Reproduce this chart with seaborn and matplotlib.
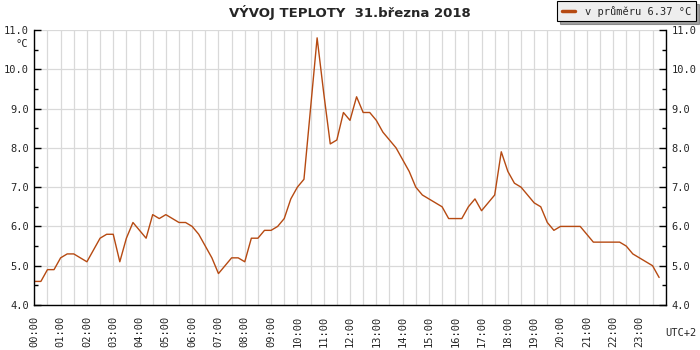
import numpy as np
import pandas as pd
import seaborn as sns
import matplotlib.pyplot as plt
from matplotlib.ticker import MultipleLocator

# Naměřené teploty po 15 minutách (00:00 - 23:45)
temps = [
    4.6, 4.6, 4.9, 4.9, 5.2, 5.3, 5.3, 5.2,   # 00-01
    5.1, 5.4, 5.7, 5.8, 5.8, 5.1, 5.7, 6.1,   # 02-03
    5.9, 5.7, 6.3, 6.2, 6.3, 6.2, 6.1, 6.1,   # 04-05
    6.0, 5.8, 5.5, 5.2, 4.8, 5.0, 5.2, 5.2,   # 06-07
    5.1, 5.7, 5.7, 5.9, 5.9, 6.0, 6.2, 6.7,   # 08-09
    7.0, 7.2, 9.0, 10.8, 9.4, 8.1, 8.2, 8.9,  # 10-11
    8.7, 9.3, 8.9, 8.9, 8.7, 8.4, 8.2, 8.0,   # 12-13
    7.7, 7.4, 7.0, 6.8, 6.7, 6.6, 6.5, 6.2,   # 14-15
    6.2, 6.2, 6.5, 6.7, 6.4, 6.6, 6.8, 7.9,   # 16-17
    7.4, 7.1, 7.0, 6.8, 6.6, 6.5, 6.1, 5.9,   # 18-19
    6.0, 6.0, 6.0, 6.0, 5.8, 5.6, 5.6, 5.6,   # 20-21
    5.6, 5.6, 5.5, 5.3, 5.2, 5.1, 5.0, 4.7,   # 22-23
]
hours = np.arange(len(temps)) * 0.25
hour_labels = [f"{h:02d}:00" for h in range(24)]

title = "VÝVOJ TEPLOTY  31.března 2018"
legend_label = "v průměru 6.37 °C"
line_color = "#b64a12"

df = pd.DataFrame({"hodina": hours, "teplota": temps})

sns.set_theme(style="white")
plt.rcParams["font.family"] = ["DejaVu Sans Mono", "DejaVu Sans"]

fig = plt.figure(figsize=(7, 3.5), dpi=100)
ax = fig.add_axes([0.049, 0.1286, 0.902, 0.7857])

sns.lineplot(data=df, x="hodina", y="teplota", color=line_color,
             linewidth=1.0, label=legend_label, ax=ax)

ax.set_xlim(0, 24)
ax.set_ylim(4, 11)
ax.set_xlabel("")
ax.set_ylabel("")

ax.set_xticks(range(24))
ax.set_xticklabels(hour_labels, rotation=90, fontsize=7.5)
ax.xaxis.set_minor_locator(MultipleLocator(0.5))
ax.yaxis.set_major_locator(MultipleLocator(1))
ax.yaxis.set_minor_locator(MultipleLocator(0.5))
ax.yaxis.set_major_formatter(lambda v, p: f"{v:.1f}")

ax.tick_params(axis="x", which="both", direction="in", length=4, width=1,
               color="black", pad=8, labelsize=7.5)
ax.tick_params(axis="y", which="major", direction="in", length=5, width=1,
               color="black", left=True, right=True, labelleft=True,
               labelright=True, labelsize=7.5, pad=4)
ax.tick_params(axis="y", which="minor", direction="in", length=3, width=1,
               color="black", left=True, right=True)

ax.grid(True, axis="x", which="both", color="#d9d9d9", linewidth=0.9)
ax.grid(True, axis="y", which="major", color="#d9d9d9", linewidth=0.9)
ax.set_axisbelow(True)

for side in ["left", "right", "bottom"]:
    ax.spines[side].set_color("black")
    ax.spines[side].set_linewidth(1)
ax.spines["top"].set_visible(False)

fig.text(0.5, 1 - 12 / 350, title, ha="center", va="center",
         fontsize=9.5, fontweight="bold", family="DejaVu Sans")
fig.text(22 / 700, 1 - 44 / 350, "°C", ha="center", va="center", fontsize=7.5)
fig.text(681 / 700, 1 - 333 / 350, "UTC+2", ha="center", va="center", fontsize=7.5)

leg = ax.legend(loc="upper right", bbox_to_anchor=(696 / 700, 1 - 1 / 350),
                bbox_transform=fig.transFigure, frameon=True, fancybox=False,
                shadow=True, fontsize=7.5, handlelength=1.2, borderpad=0.45,
                handletextpad=1.0, borderaxespad=0)
leg.get_frame().set_facecolor("#eeeeee")
leg.get_frame().set_edgecolor("black")
leg.get_frame().set_linewidth(0.8)
for line in leg.get_lines():
    line.set_linewidth(2.5)

fig.savefig("out.png", dpi=100)
